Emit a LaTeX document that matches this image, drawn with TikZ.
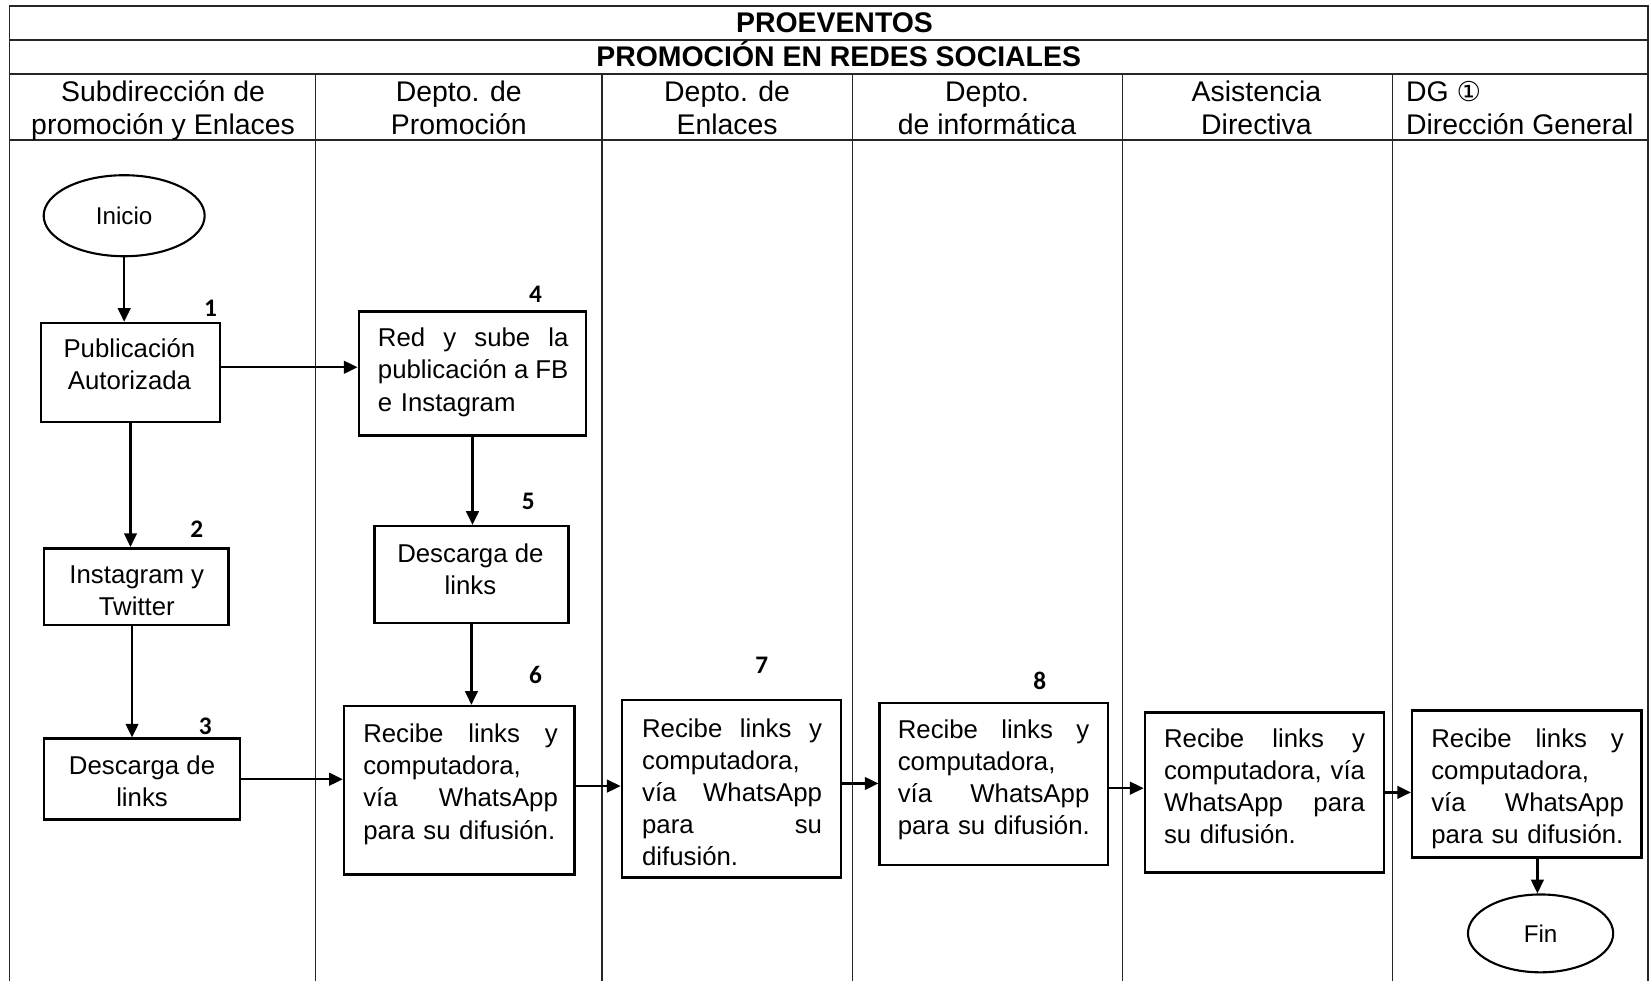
\documentclass[tikz,border=0pt]{standalone}
\usepackage{fontspec}
\setmainfont{Liberation Sans}
\newfontfamily\numfont{Carlito}
\newfontfamily\symfont{DejaVu Sans}
\usetikzlibrary{arrows.meta,shapes.geometric}
\newcommand\J[2]{\leavevmode\hbox to #1pt{#2}}
\newcommand\flowboxat[5]{\node[flowbox, minimum width={((#4)-(#2))*1pt}, minimum height={((#5)-(#3))*1pt}] (#1) at ({((#2)+(#4))/2},{((#3)+(#5))/2}) {};}
\begin{document}
\begin{tikzpicture}[x=1pt,y=-1pt,
  gridframe/.style={line width=1.6pt, draw=black!85},
  gridcol/.style={line width=1.2pt, draw=black!85},
  titletext/.style={font=\bfseries\fontsize{27}{31}\selectfont, inner sep=0},
  headtext/.style={font=\fontsize{27}{31}\selectfont, align=center, inner sep=0, yshift=-3.5pt},
  flowbox/.style={draw, line width=2.4pt, rectangle, inner sep=0},
  endnode/.style={draw, ellipse, line width=2pt, inner sep=0, font=\fontsize{23}{27}\selectfont},
  steptext/.style={font=\fontsize{24.5}{30.5}\selectfont, inner sep=0, yshift=-3pt},
  stepnum/.style={font=\numfont\bfseries\fontsize{24}{24}\selectfont, inner sep=0},
  flowarrow/.style={line width=2.2pt, -{Triangle[length=13pt,width=12pt]}},
]
\useasboundingbox (0,0) rectangle (1568,932);
\fill[white] (0,0) rectangle (1568,932);

% table grid
\draw[gridframe] (9,932) -- (9,6) -- (1566,6) -- (1566,932);
\draw[gridframe] (9,38) -- (1566,38);
\draw[gridframe] (9,70) -- (1566,70);
\draw[gridframe] (9,133) -- (1566,133);
\foreach \x in {300,572,810,1067,1323} \draw[gridcol] (\x,70) -- (\x,932);

% titles
\node[titletext] (title1) at (793,22) {PROEVENTOS};
\node[titletext] (title2) at (797,51.5) {PROMOCIÓN EN REDES SOCIALES};

% lane headers
\node[headtext] (h1) at (155,102.5) {\strut Subdirección de\\promoción y Enlaces\strut};
\node[headtext] (h2) at (436,102.5) {\strut Depto. de\\Promoción\strut};
\node[headtext] (h3) at (691,102.5) {\strut Depto. de\\Enlaces\strut};
\node[headtext] (h4) at (938,102.5) {\strut Depto.\\de informática\strut};
\node[headtext] (h5) at (1194,102.5) {\strut Asistencia\\Directiva\strut};
\node[headtext, align=left, anchor=west] (h6) at (1336,102.5) {\strut DG {\symfont\fontsize{26}{30}\selectfont ①}\\Dirección General\strut};

% terminals
\node[endnode, minimum width=153pt, minimum height=77pt] (inicio) at (118,205) {Inicio};
\node[endnode, minimum width=138pt, minimum height=74pt] (fin) at (1464,887) {Fin};

% boxes
\flowboxat{b1}{39}{307}{209}{401}
\flowboxat{b2}{42}{521}{217}{594}
\flowboxat{b3}{42}{702}{228}{779}
\flowboxat{b4}{341}{296}{557}{414}
\flowboxat{b5}{356}{500}{540}{592}
\flowboxat{b6}{327}{671}{546}{831}
\flowboxat{b7}{591}{665}{799}{834}
\flowboxat{b8}{836}{668}{1053}{822}
\flowboxat{b9}{1088}{677}{1315}{829}
\flowboxat{b10}{1342}{675}{1560}{815}

% box texts
\node[steptext, align=center] (tx1) at (123,346) {\strut Publicación\\Autorizada\strut};
\node[steptext, align=center] (tx2) at (130,560.5) {\strut Instagram y\\Twitter\strut};
\node[steptext, align=center] (tx3) at (135,742) {\strut Descarga de\\links\strut};
\node[steptext, align=left, text width=200pt, anchor=west] (tx4) at (359,351) {\strut\J{181}{Red\hfill y\hfill sube\hfill la}\\\J{181}{publicación\hfill a\hfill FB}\\e Instagram\strut};
\node[steptext, align=center] (tx5) at (447,541) {\strut Descarga de\\links\strut};
\node[steptext, align=left, text width=200pt, anchor=west] (tx6) at (345,742.5) {\strut\J{185}{Recibe\hfill links\hfill y}\\computadora,\\\J{185}{vía\hfill WhatsApp}\\para su difusión.\strut};
\node[steptext, align=left, text width=200pt, anchor=west] (tx7) at (610,752.5) {\strut\J{171}{Recibe\hfill links\hfill y}\\computadora,\\\J{171}{vía\hfill WhatsApp}\\\J{171}{para\hfill su}\\difusión.\strut};
\node[steptext, align=left, text width=200pt, anchor=west] (tx8) at (853,738) {\strut\J{182}{Recibe\hfill links\hfill y}\\computadora,\\\J{182}{vía\hfill WhatsApp}\\para su difusión.\strut};
\node[steptext, align=left, text width=200pt, anchor=west] (tx9) at (1106,747) {\strut\J{191}{Recibe\hfill links\hfill y}\\\J{191}{computadora,\hfill vía}\\\J{191}{WhatsApp\hfill para}\\su difusión.\strut};
\node[steptext, align=left, text width=200pt, anchor=west] (tx10) at (1360,747) {\strut\J{183}{Recibe\hfill links\hfill y}\\computadora,\\\J{183}{vía\hfill WhatsApp}\\para su difusión.\strut};

% step numbers
\node[stepnum] (n1) at (200,293) {1};
\node[stepnum] (n2) at (187,503) {2};
\node[stepnum] (n3) at (195,690) {3};
\node[stepnum] (n4) at (509,280) {4};
\node[stepnum] (n5) at (502,476) {5};
\node[stepnum] (n6) at (509,641) {6};
\node[stepnum] (n7) at (724,632) {7};
\node[stepnum] (n8) at (988,647) {8};

% connectors
\draw[flowarrow] (inicio.south) -- (inicio.south |- b1.north);
\draw[flowarrow] ([yshift=5pt]b1.east) -- ([yshift=5pt]b1.east -| b4.west);
\draw[flowarrow] (b1.south) -- (b1.south |- b2.north);
\draw[flowarrow] ([xshift=-4pt]b2.south) -- ([xshift=-4pt]b2.south |- b3.north);
\draw[flowarrow] (b3.east) -- (b3.east -| b6.west);
\draw[flowarrow] (b4.south) -- (b4.south |- b5.north);
\draw[flowarrow] (b5.south) -- (b5.south |- b6.north);
\draw[flowarrow] ([yshift=4pt]b6.east) -- ([yshift=4pt]b6.east -| b7.west);
\draw[flowarrow] ([yshift=5pt]b7.east) -- ([yshift=5pt]b7.east -| b8.west);
\draw[flowarrow] ([yshift=-4pt]b8.east) -- ([yshift=-4pt]b8.east -| b9.west);
\draw[flowarrow] (b9.east) -- (b9.east -| b10.west);
\draw[flowarrow] ([xshift=10pt]b10.south) -- ([xshift=10pt]b10.south |- fin.north);
\end{tikzpicture}
\end{document}
